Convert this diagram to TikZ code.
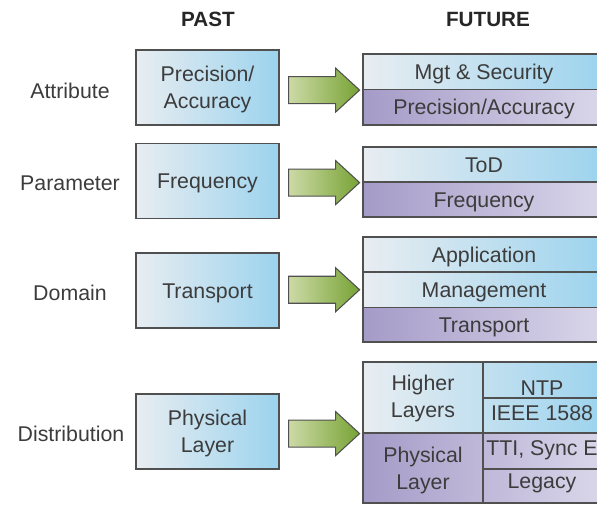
\documentclass[tikz,border=0pt]{standalone}
\usepackage{fontspec}
\setmainfont{Liberation Sans}
\usetikzlibrary{calc}
\definecolor{txt}{HTML}{3C3C3C}
\definecolor{edge}{HTML}{505050}
\definecolor{bluel}{HTML}{E8EDF1}
\definecolor{bluer}{HTML}{9CD3EE}
\definecolor{purl}{HTML}{A59BC8}
\definecolor{purr}{HTML}{DAD7EA}
\definecolor{grnl}{HTML}{CCDAA6}
\definecolor{grnr}{HTML}{78A335}
\begin{document}
\begin{tikzpicture}[x=0.75pt,y=-0.75pt,
  every node/.style={text=txt},
  lbl/.style={font=\fontsize{16}{20}\selectfont, text height=11.5pt, text depth=0pt, inner sep=0pt},
  hdr/.style={font=\fontsize{15.5}{19}\selectfont\bfseries, text=black!85, text height=11.2pt, text depth=0pt, inner sep=0pt},
  pastbox/.style={draw=edge, line width=0.9pt, left color=bluel, right color=bluer,
    minimum width=107.25pt, minimum height=56.25pt, align=center, inner sep=0pt,
    font=\fontsize{16}{20.25}\selectfont, text depth=0pt},
  upcell/.style={draw=edge, line width=0.9pt, left color=bluel, right color=bluer,
    minimum width=181.5pt, inner sep=0pt, font=\fontsize{16}{20}\selectfont, text height=11.5pt, text depth=0pt},
  lowcell/.style={draw=edge, line width=0.9pt, left color=purl, right color=purr,
    minimum width=181.5pt, inner sep=0pt, font=\fontsize{16}{20}\selectfont, text height=11.5pt, text depth=0pt},
  bigarrow/.style={draw=edge, line width=0.8pt, left color=grnl, right color=grnr},
  divider/.style={draw=edge, line width=0.9pt}
]
\useasboundingbox (0,0) rectangle (597,505);
\clip (0,0) rectangle (597,505);

% headers
\node[hdr] (hpast) at (208,19) {PAST};
\node[hdr] (hfut) at (488,19) {FUTURE};

% row labels
\node[lbl] (l1) at (70,91) {Attribute};
\node[lbl] (l2) at (70,183) {Parameter};
\node[lbl] (l3) at (70,293) {Domain};
\node[lbl] (l4) at (71,434) {Distribution};

% past boxes
\node[pastbox] (p1) at (207.5,87.5) {Precision/\\Accuracy};
\node[pastbox, text height=11.5pt] (p2) at (207.5,181) {Frequency};
\node[pastbox, text height=11.5pt] (p3) at (207.5,290.5) {Transport};
\node[pastbox] (p4) at (207.5,431.5) {Physical\\Layer};

% future boxes
\node[upcell, minimum height=26.625pt] (f1a) at (484,71.75) {Mgt \& Security};
\node[lowcell, minimum height=26.625pt] (f1b) at (484,107.25) {Precision/Accuracy};

\node[upcell, minimum height=26.25pt] (f2a) at (484,164.5) {ToD};
\node[lowcell, minimum height=26.25pt] (f2b) at (484,199.5) {Frequency};

\node[upcell, minimum height=26.25pt] (f3a) at (484,254.5) {Application};
\node[upcell, minimum height=26.625pt] (f3b) at (484,289.75) {Management};
\node[lowcell, minimum height=25.875pt] (f3c) at (484,324.75) {Transport};

\node[upcell, minimum height=53.25pt] (f4a) at (484,397.5) {};
\node[lowcell, minimum height=52.5pt] (f4b) at (484,468) {};
\coordinate (vd) at (483,0);
\draw[divider] (vd |- f4a.north) -- (vd |- f4b.south);
\draw[divider] (vd |- 0,398) -- (f4a.east |- 0,398);
\draw[divider] (vd |- 0,469) -- (f4b.east |- 0,469);
\node[align=center, inner sep=0pt, font=\fontsize{16}{20.25}\selectfont] (hl) at (423,398) {Higher\\Layers};
\node[align=center, inner sep=0pt, font=\fontsize{16}{20.25}\selectfont] (pl) at (423,470) {Physical\\Layer};
\node[lbl, anchor=base] (ntp) at (542,395.5) {NTP};
\node[lbl, anchor=base] (ieee) at (542,420.5) {IEEE 1588};
\node[lbl, anchor=base] (tti) at (542,455.5) {TTI, Sync E};
\node[lbl, anchor=base] (leg) at (542,488.5) {Legacy};

% arrows (from past box to the left side of the future box)
\foreach \p/\f in {p1/f1a.south, p2/f2a.south, p3/f3b.center, p4/f4a.south}{
  \coordinate (s) at (\p.east |- \f);
  \draw[bigarrow] ($(s)+(9,-13.5)$) -- ($(s)+(56,-13.5)$) -- ($(s)+(56,-22)$)
     -- ($(s)+(80,0)$) -- ($(s)+(56,22)$) -- ($(s)+(56,13.5)$) -- ($(s)+(9,13.5)$) -- cycle;
}
\end{tikzpicture}
\end{document}
